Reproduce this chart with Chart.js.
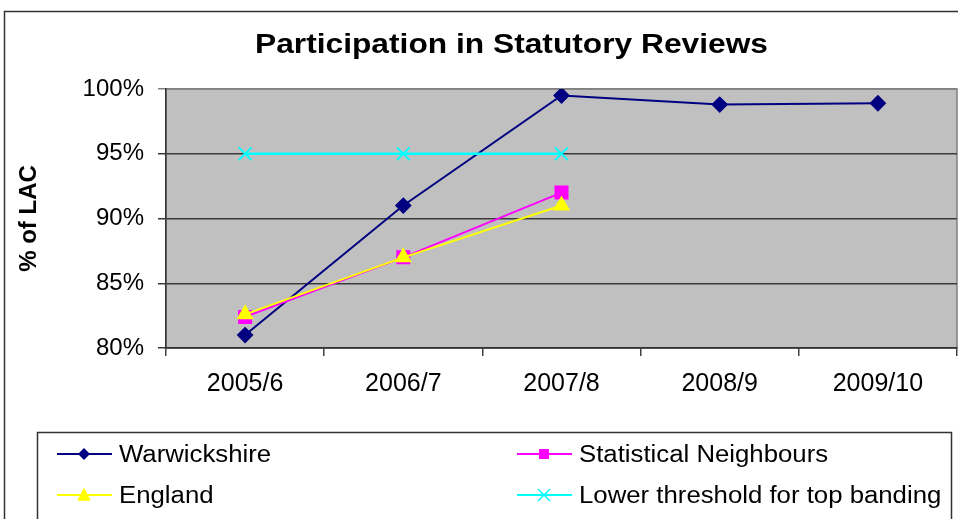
<!DOCTYPE html>
<html>
<head>
<meta charset="utf-8">
<script src="https://cdn.jsdelivr.net/npm/chart.js@4.4.1/dist/chart.umd.min.js"></script>
<style>
  html, body { margin: 0; padding: 0; background: #ffffff; overflow: hidden; }
  #wrap { width: 958px; height: 519px; overflow: hidden; }
</style>
</head>
<body>
<div id="wrap"><canvas id="c" width="968" height="519"></canvas></div>
<script>
const chartTitle = "Participation in Statutory Reviews";
const yAxisTitle = "% of LAC";
const categories = ["2005/6", "2006/7", "2007/8", "2008/9", "2009/10"];
const warwickshire = [81.0, 91.0, 99.5, 98.8, 98.9];
const statNeighbours = [82.4, 87.0, 92.0, null, null];
const england = [82.6, 87.0, 91.0, null, null];
const threshold = [95, 95, 95, null, null];
const yTicks = [80, 85, 90, 95, 100];
const seriesNames = ["Warwickshire", "Statistical Neighbours", "England", "Lower threshold for top banding"];

const FONT = "'Liberation Sans', Arial, sans-serif";

function stretchedText(ctx, text, x, y, align, sx) {
  ctx.save();
  ctx.translate(x, y);
  ctx.scale(sx, 1);
  ctx.textAlign = align;
  ctx.textBaseline = 'alphabetic';
  ctx.fillText(text, 0, 0);
  ctx.restore();
}

function drawMarker(ctx, style, x, y, r, color) {
  ctx.save();
  ctx.fillStyle = color;
  ctx.strokeStyle = color;
  ctx.beginPath();
  if (style === 'rectRot') {
    ctx.moveTo(x, y - r); ctx.lineTo(x + r, y); ctx.lineTo(x, y + r); ctx.lineTo(x - r, y); ctx.closePath(); ctx.fill();
  } else if (style === 'rect') {
    ctx.rect(x - r, y - r, 2 * r, 2 * r); ctx.fill();
  } else if (style === 'triangle') {
    ctx.moveTo(x, y - r); ctx.lineTo(x + r * 0.9, y + r * 0.75); ctx.lineTo(x - r * 0.9, y + r * 0.75); ctx.closePath(); ctx.fill();
  } else if (style === 'crossRot') {
    ctx.lineWidth = 1.5;
    ctx.moveTo(x - r, y - r); ctx.lineTo(x + r, y + r);
    ctx.moveTo(x + r, y - r); ctx.lineTo(x - r, y + r); ctx.stroke();
  }
  ctx.restore();
}

const framePlugin = {
  id: 'frame',
  beforeDraw(chart) {
    const ctx = chart.ctx;
    const a = chart.chartArea;
    ctx.save();
    ctx.fillStyle = '#ffffff';
    ctx.fillRect(0, 0, chart.width, chart.height);
    ctx.strokeStyle = '#333333';
    ctx.lineWidth = 1.5;
    ctx.strokeRect(4.5, 11.5, 1100, 700);
    ctx.fillStyle = '#C0C0C0';
    ctx.fillRect(a.left, a.top, a.right - a.left, a.bottom - a.top);
    ctx.strokeStyle = '#808080';
    ctx.lineWidth = 1.5;
    ctx.strokeRect(a.left, a.top, a.right - a.left, a.bottom - a.top);
    ctx.fillStyle = '#000000';
    ctx.font = "bold 27px " + FONT;
    stretchedText(ctx, chartTitle, 511.5, 53, 'center', 1.175);
    ctx.restore();
  },
  afterDraw(chart) {
    const ctx = chart.ctx;
    ctx.save();
    ctx.strokeStyle = '#333333';
    ctx.lineWidth = 1.5;
    ctx.strokeRect(37.5, 432.5, 914, 200);
    const pos = [[57, 454], [517, 454], [57, 495], [517, 495]];
    chart.data.datasets.forEach((ds, i) => {
      const [x, y] = pos[i];
      ctx.strokeStyle = ds.borderColor;
      ctx.lineWidth = 2;
      ctx.beginPath(); ctx.moveTo(x, y); ctx.lineTo(x + 55, y); ctx.stroke();
      const r = {rectRot: 6, rect: 5, triangle: 7.5, crossRot: 6}[ds.pointStyle];
      drawMarker(ctx, ds.pointStyle, x + 27, y, r, ds.pointBackgroundColor);
      ctx.fillStyle = '#000000';
      ctx.font = "23px " + FONT;
      stretchedText(ctx, ds.label, x + 62, y + 8, 'left', 1.12);
    });
    ctx.restore();
  }
};

new Chart(document.getElementById('c'), {
  type: 'line',
  data: {
    labels: categories,
    datasets: [
      { label: seriesNames[0], data: warwickshire, order: 4, borderColor: '#000080', backgroundColor: '#000080',
        pointBackgroundColor: '#000080', pointBorderColor: '#000080', pointStyle: 'rectRot', pointRadius: 7, borderWidth: 2 },
      { label: seriesNames[1], data: statNeighbours, order: 3, borderColor: '#FF00FF', backgroundColor: '#FF00FF',
        pointBackgroundColor: '#FF00FF', pointBorderColor: '#FF00FF', pointStyle: 'rect', pointRadius: 8.5, borderWidth: 2 },
      { label: seriesNames[2], data: england, order: 2, borderColor: '#FFFF00', backgroundColor: '#FFFF00',
        pointBackgroundColor: '#FFFF00', pointBorderColor: '#FFFF00', pointStyle: 'triangle', pointRadius: 8, borderWidth: 2 },
      { label: seriesNames[3], data: threshold, order: 1, borderColor: '#00FFFF', backgroundColor: '#00FFFF',
        pointBackgroundColor: '#00FFFF', pointBorderColor: '#00FFFF', pointStyle: 'crossRot', pointRadius: 9, borderWidth: 2.5, pointBorderWidth: 2 }
    ]
  },
  options: {
    responsive: false,
    animation: false,
    devicePixelRatio: 1,
    spanGaps: false,
    layout: { padding: { left: 0, top: 89, right: 2, bottom: 121 } },
    plugins: {
      legend: { display: false },
      title: { display: false },
      tooltip: { enabled: false }
    },
    scales: {
      x: {
        offset: true,
        grid: { offset: true, drawOnChartArea: false, drawTicks: true, tickLength: 8, color: '#404040', lineWidth: 1.5 },
        border: { color: '#333333', width: 1.5 },
        ticks: { font: { family: FONT, size: 25 }, color: '#000000', padding: 13, maxRotation: 0, autoSkip: false },
        afterFit(s) { s.height = 50; s.paddingLeft = 0; s.paddingRight = 0; }
      },
      y: {
        min: 80, max: 100,
        afterBuildTicks(s) { s.ticks = yTicks.map(v => ({ value: v })); },
        grid: { color: ctx => (ctx.tick && ctx.tick.value === 100 ? '#808080' : '#3a3a3a'), lineWidth: 1.5, tickLength: 8, drawTicks: true },
        border: { color: '#333333', width: 1.5 },
        ticks: { font: { family: FONT, size: 24 }, color: '#000000', padding: 14, callback: v => v + '%' },
        title: { display: true, text: yAxisTitle, font: { family: FONT, size: 24, weight: 'bold' }, color: '#000000', padding: { top: 15, bottom: 0 } },
        afterFit(s) { s.width = 166; s.paddingTop = 0; s.paddingBottom = 0; }
      }
    }
  },
  plugins: [framePlugin]
});
</script>
</body>
</html>
